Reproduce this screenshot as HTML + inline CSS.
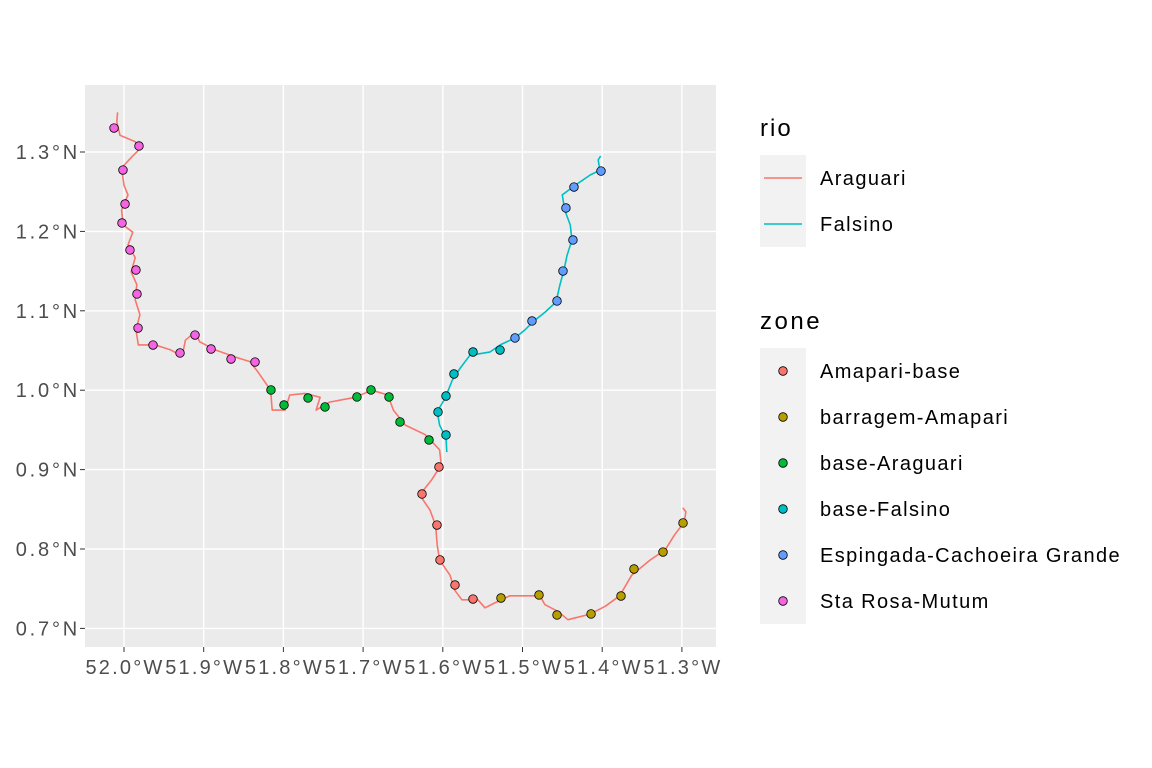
<!DOCTYPE html>
<html><head><meta charset="utf-8"><style>
body{margin:0;background:#fff;}
svg{display:block;font-family:"Liberation Sans",Arial,sans-serif;}
</style></head><body>
<svg id="chart" width="1152" height="768" viewBox="0 0 1152 768">
<rect x="0" y="0" width="1152" height="768" fill="#fff"/>
<rect x="85" y="85" width="631" height="562" fill="#EBEBEB"/>
<g id="grid"></g>
<g id="rivers"></g>
<g id="points"></g>
<g id="axes"></g>
<g id="legend"></g>
</svg>
<script>
const xTicks=[-52.0,-51.9,-51.8,-51.7,-51.6,-51.5,-51.4,-51.3];
const xTickLabels=["52.0°W","51.9°W","51.8°W","51.7°W","51.6°W","51.5°W","51.4°W","51.3°W"];
const yTicks=[0.7,0.8,0.9,1.0,1.1,1.2,1.3];
const yTickLabels=["0.7°N","0.8°N","0.9°N","1.0°N","1.1°N","1.2°N","1.3°N"];
const riverNames=["Araguari","Falsino"];
const riverColors=["#F8766D","#00BFC4"];
const araguariLon=[-52.008,-52.009,-52.005,-51.986,-51.981,-51.992,-52.003,-52.000,-51.995,-52.003,-52.001,-51.989,-51.995,-51.986,-51.991,-51.984,-51.986,-51.980,-51.985,-51.982,-51.961,-51.942,-51.927,-51.923,-51.911,-51.905,-51.886,-51.861,-51.842,-51.832,-51.816,-51.814,-51.798,-51.792,-51.773,-51.754,-51.759,-51.742,-51.710,-51.689,-51.669,-51.662,-51.647,-51.622,-51.604,-51.602,-51.614,-51.629,-51.616,-51.609,-51.607,-51.604,-51.591,-51.585,-51.576,-51.556,-51.547,-51.535,-51.516,-51.478,-51.472,-51.455,-51.443,-51.415,-51.396,-51.378,-51.363,-51.340,-51.321,-51.309,-51.297,-51.295,-51.299];
const araguariLat=[1.350,1.338,1.321,1.313,1.303,1.292,1.280,1.258,1.246,1.227,1.208,1.199,1.183,1.167,1.149,1.133,1.114,1.095,1.076,1.057,1.057,1.051,1.043,1.063,1.073,1.061,1.051,1.042,1.036,1.023,1.000,0.975,0.975,0.994,0.996,0.991,0.975,0.985,0.991,1.000,0.994,0.975,0.956,0.944,0.925,0.906,0.887,0.868,0.849,0.830,0.805,0.786,0.767,0.748,0.736,0.736,0.726,0.732,0.741,0.741,0.730,0.721,0.711,0.718,0.728,0.741,0.767,0.786,0.799,0.818,0.834,0.847,0.852];
const falsinoLon=[-51.595,-51.596,-51.604,-51.607,-51.597,-51.588,-51.578,-51.566,-51.541,-51.528,-51.509,-51.497,-51.487,-51.472,-51.458,-51.453,-51.448,-51.444,-51.438,-51.440,-51.447,-51.450,-51.434,-51.415,-51.403,-51.405,-51.402];
const falsinoLat=[0.922,0.940,0.956,0.973,0.990,1.013,1.028,1.044,1.048,1.057,1.066,1.076,1.086,1.098,1.111,1.133,1.151,1.170,1.189,1.208,1.227,1.246,1.258,1.271,1.277,1.290,1.295];
const zoneNames=["Amapari-base","barragem-Amapari","base-Araguari","base-Falsino","Espingada-Cachoeira Grande","Sta Rosa-Mutum"];
const zoneColors=["#F8766D","#B79F00","#00BA38","#00BFC4","#619CFF","#F564E3"];
const ptZone=[5,5,5,5,5,5,5,5,5,5,5,5,5,5,5, 2,2,2,2,2,2,2,2,2, 0,0,0,0,0,0, 1,1,1,1,1,1,1,1, 3,3,3,3,3,3, 4,4,4,4,4,4,4,4];
const ptLon=[-52.0125,-51.9812,-52.0013,-51.9987,-52.0025,-51.9925,-51.985,-51.9837,-51.9824,-51.9636,-51.9297,-51.9109,-51.8908,-51.8657,-51.8356,
-51.8156,-51.7992,-51.7691,-51.7478,-51.7077,-51.6901,-51.6675,-51.6537,-51.6173,
-51.6048,-51.6261,-51.6073,-51.6035,-51.5847,-51.5621,
-51.5270,-51.4793,-51.4567,-51.4140,-51.3764,-51.3601,-51.3237,-51.2986,
-51.5960,-51.6060,-51.5960,-51.5860,-51.5621,-51.5282,
-51.5094,-51.4881,-51.4567,-51.4492,-51.4367,-51.4455,-51.4354,-51.4015];
const ptLat=[1.3302,1.3076,1.2773,1.2345,1.2106,1.1766,1.1514,1.1212,1.0783,1.0569,1.0469,1.0695,1.0519,1.0393,1.0355,
1.0003,0.9814,0.9902,0.9789,0.9915,1.0003,0.9915,0.9600,0.9373,
0.9033,0.8693,0.8302,0.7862,0.7547,0.7370,
0.7383,0.7421,0.7169,0.7182,0.7408,0.7748,0.7962,0.8328,
0.9436,0.9726,0.9927,1.0204,1.0481,1.0506,
1.0658,1.0872,1.1124,1.1501,1.1892,1.2295,1.2559,1.2760];

const NS="http://www.w3.org/2000/svg";
const X0=85,X1=716,Y0=85,Y1=647;
function sx(lon){return 124+(lon+52.0)*797;}
function sy(lat){return 152+(1.3-lat)*794;}
function mk(tag,attrs,parent){const e=document.createElementNS(NS,tag);for(const k in attrs)e.setAttribute(k,attrs[k]);parent.appendChild(e);return e;}
const grid=document.getElementById('grid'),rivers=document.getElementById('rivers'),points=document.getElementById('points'),axes=document.getElementById('axes'),legend=document.getElementById('legend');

xTicks.forEach((t,i)=>{
  const l=mk('line',{x1:sx(t),x2:sx(t),y1:Y0,y2:Y1,stroke:'#fff','stroke-width':1.4},grid);
  
  
  const tk=mk('line',{x1:sx(t),x2:sx(t),y1:Y1,y2:Y1+5,stroke:'#333','stroke-width':1},axes);
  
  
  const tx=mk('text',{x:sx(t)+1,y:Y1+27,'text-anchor':'middle','font-size':20,'letter-spacing':2.2,fill:'#4D4D4D'},axes);
  tx.textContent=xTickLabels[i];
  
  
});
yTicks.forEach((t,i)=>{
  const l=mk('line',{x1:X0,x2:X1,y1:sy(t),y2:sy(t),stroke:'#fff','stroke-width':1.4},grid);
  
  
  const tk=mk('line',{x1:X0-5,x2:X0,y1:sy(t),y2:sy(t),stroke:'#333','stroke-width':1},axes);
  
  
  const tx=mk('text',{x:X0-5,y:sy(t)+7,'text-anchor':'end','font-size':20,'letter-spacing':2.8,fill:'#4D4D4D'},axes);
  tx.textContent=yTickLabels[i];
  
  
});
function drawRiver(lons,lats,color,name){
  const d=lons.map((v,i)=>(i?'L':'M')+sx(v).toFixed(1)+','+sy(lats[i]).toFixed(1)).join('');
  const p=mk('path',{d:d,fill:'none',stroke:color,'stroke-width':1.6,'stroke-linejoin':'round'},rivers);
  
  
}
drawRiver(araguariLon,araguariLat,riverColors[0],'river-araguari');
drawRiver(falsinoLon,falsinoLat,riverColors[1],'river-falsino');
ptLon.forEach((v,i)=>{
  const c=mk('circle',{cx:sx(v),cy:sy(ptLat[i]),r:4.3,fill:zoneColors[ptZone[i]],stroke:'#000','stroke-width':0.8},points);
  
  
});
const t1=mk('text',{x:760,y:136,'font-size':24,'letter-spacing':2,fill:'#000'},legend);
t1.textContent='rio';


riverNames.forEach((n,i)=>{
  const y=155+i*46;
  const b=mk('rect',{x:760,y:y,width:46,height:46,fill:'#F2F2F2'},legend);
  
  
  const l=mk('line',{x1:764,x2:802,y1:y+23,y2:y+23,stroke:riverColors[i],'stroke-width':1.6},legend);
  
  
  const tx=mk('text',{x:820,y:y+30,'font-size':20,'letter-spacing':1.4,fill:'#000'},legend);
  tx.textContent=n;
  
  
});
const t2=mk('text',{x:760,y:329,'font-size':24,'letter-spacing':2.5,fill:'#000'},legend);
t2.textContent='zone';


zoneNames.forEach((n,i)=>{
  const y=348+i*46;
  const b=mk('rect',{x:760,y:y,width:46,height:46,fill:'#F2F2F2'},legend);
  
  
  const c=mk('circle',{cx:783,cy:y+23,r:4.3,fill:zoneColors[i],stroke:'#000','stroke-width':0.8},legend);
  
  
  const tx=mk('text',{x:820,y:y+30,'font-size':20,'letter-spacing':1.4,fill:'#000'},legend);
  tx.textContent=n;
  
  
});
</script>
</body></html>
